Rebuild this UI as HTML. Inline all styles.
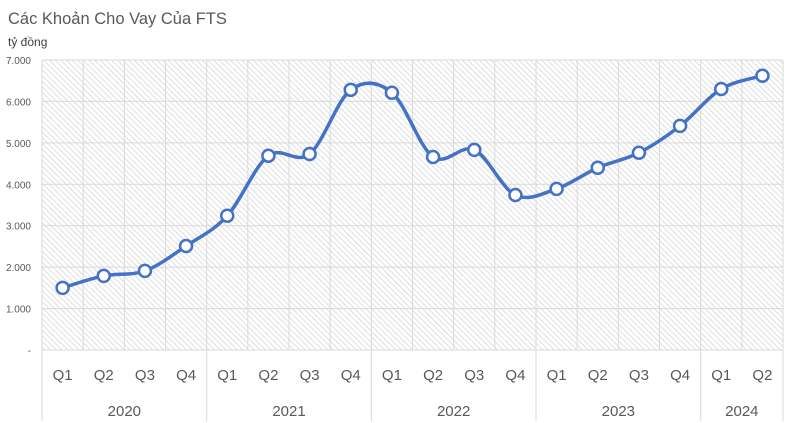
<!DOCTYPE html>
<html><head><meta charset="utf-8"><style>
body{margin:0;background:#fff;font-family:"Liberation Sans",sans-serif}
svg{display:block}
</style></head><body>
<svg width="800" height="423">
<defs>
<pattern id="hatch" width="4" height="4" patternUnits="userSpaceOnUse" patternTransform="rotate(-45)">
<rect width="4" height="4" fill="#fff"/>
<line x1="0" y1="0" x2="0" y2="4" stroke="#d4d4d4" stroke-width="1.5"/>
</pattern>
</defs>
<text x="8" y="24" font-size="16.5" fill="#595959">Các Khoản Cho Vay Của FTS</text>
<text x="8" y="46" font-size="12" fill="#404040">tỷ đồng</text>
<rect x="42" y="60" width="741" height="290" fill="url(#hatch)"/>
<g id="grid"></g><g id="axis"></g><g id="series"></g>
</svg>
<script>
const years=["2020","2021","2022","2023","2024"];
const yearCounts=[4,4,4,4,2];
const quarters=["Q1","Q2","Q3","Q4","Q1","Q2","Q3","Q4","Q1","Q2","Q3","Q4","Q1","Q2","Q3","Q4","Q1","Q2"];
const values=[1500,1790,1910,2510,3240,4690,4730,6280,6210,4660,4830,3740,3890,4400,4760,5410,6300,6620];
const yTicks=[0,1000,2000,3000,4000,5000,6000,7000];
const yTickLabels=["-","1.000","2.000","3.000","4.000","5.000","6.000","7.000"];
const NS="http://www.w3.org/2000/svg";
const L=42,R=783,T=60,B=350,maxV=7000;
const bw=(R-L)/quarters.length;
const xc=i=>L+bw*(i+0.5);
const y=v=>B-(v/maxV)*(B-T);
function mk(tag,attrs,parent,text){const e=document.createElementNS(NS,tag);for(const k in attrs)e.setAttribute(k,attrs[k]);if(text!=null)e.textContent=text;parent.appendChild(e);return e;}
const grid=document.getElementById('grid'),axis=document.getElementById('axis'),ser=document.getElementById('series');
yTicks.forEach((t,i)=>{
  const ln=mk('line',{x1:L,x2:R,y1:y(t),y2:y(t),stroke:'#d9d9d9','stroke-width':1},grid);
  
  
  const tx=mk('text',{x:31,y:y(t)+4,'font-size':10,fill:'#595959','text-anchor':'end'},axis,yTickLabels[i]);
  
  
});
for(let i=0;i<=quarters.length;i++){
  const ln=mk('line',{x1:L+bw*i,x2:L+bw*i,y1:T,y2:B,stroke:'#d9d9d9','stroke-width':1},grid);
  
  
}
quarters.forEach((q,i)=>{
  const tx=mk('text',{x:xc(i),y:380,'font-size':15,fill:'#595959','text-anchor':'middle'},axis,q);
  
  
});
let s=0;
mk('line',{x1:L,x2:L,y1:B,y2:421,stroke:'#d9d9d9'},axis);
years.forEach((yr,k)=>{
  const x0=L+bw*s;s+=yearCounts[k];const x1=L+bw*s;
  const ln=mk('line',{x1:x1,x2:x1,y1:B,y2:421,stroke:'#d9d9d9'},axis);
  
  
  const tx=mk('text',{x:(x0+x1)/2,y:416,'font-size':15,fill:'#595959','text-anchor':'middle'},axis,yr);
  
  
});
const pts=values.map((v,i)=>[xc(i),y(v)]);
let d=`M${pts[0][0]},${pts[0][1]}`;
for(let i=0;i<pts.length-1;i++){
  const p0=pts[i-1]||pts[i],p1=pts[i],p2=pts[i+1],p3=pts[i+2]||p2,t=6;
  d+=` C${p1[0]+(p2[0]-p0[0])/t},${p1[1]+(p2[1]-p0[1])/t} ${p2[0]-(p3[0]-p1[0])/t},${p2[1]-(p3[1]-p1[1])/t} ${p2[0]},${p2[1]}`;
}
const path=mk('path',{d:d,fill:'none',stroke:'#4472c4','stroke-width':3.5},ser);


pts.forEach(p=>{
  const c=mk('circle',{cx:p[0],cy:p[1],r:6,fill:'#fff',stroke:'#4472c4','stroke-width':2.5},ser);
  
  
});
</script>
</body></html>
